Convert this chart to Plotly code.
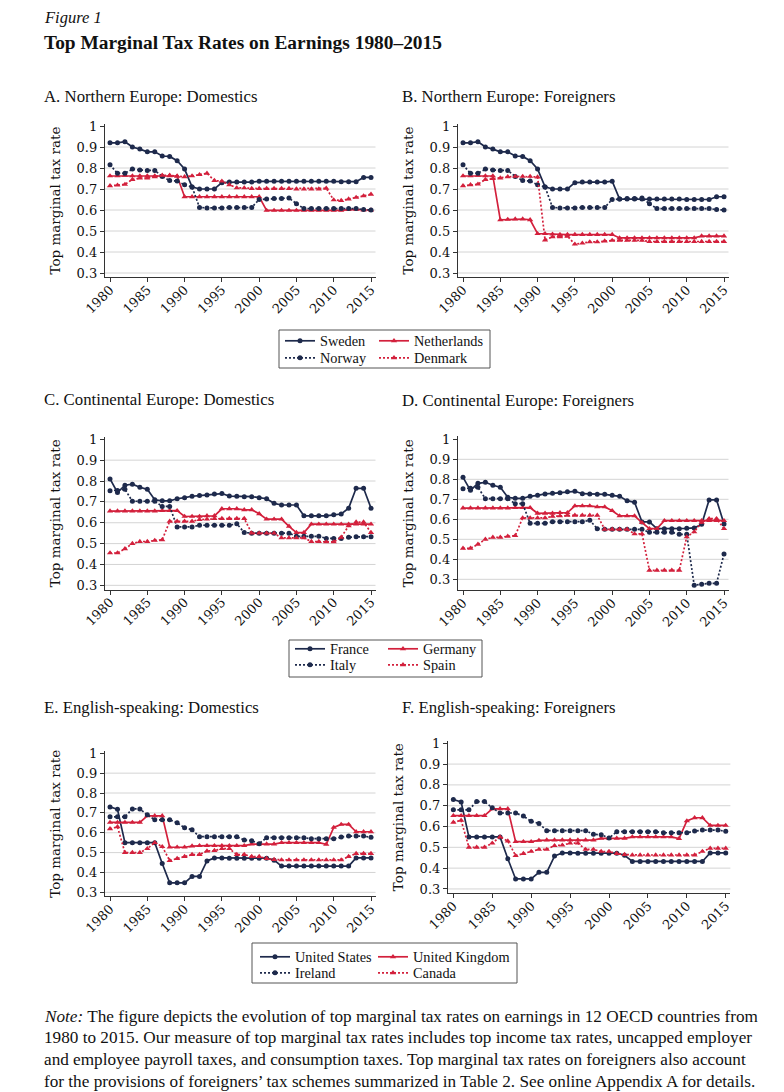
import plotly.graph_objects as go

# ---------------- data ----------------
years = list(range(1980, 2016))
x_ticks = [1980, 1985, 1990, 1995, 2000, 2005, 2010, 2015]
y_ticks = [0.3, 0.4, 0.5, 0.6, 0.7, 0.8, 0.9, 1.0]
y_tick_labels = ["0.3", "0.4", "0.5", "0.6", "0.7", "0.8", "0.9", "1"]
grid_vals = [0.3, 0.4, 0.5, 0.6, 0.7, 0.8, 0.9]

# Panel A / B : Northern Europe
sweden_dom = [0.92, 0.92, 0.925, 0.90, 0.89, 0.877, 0.877, 0.857, 0.855, 0.835,
              0.795, 0.71, 0.70, 0.70, 0.70, 0.73, 0.733, 0.733, 0.733, 0.733,
              0.737, 0.737, 0.737, 0.737, 0.737, 0.737, 0.737, 0.737, 0.737, 0.737,
              0.737, 0.735, 0.735, 0.735, 0.755, 0.755]
norway_dom = [0.815, 0.775, 0.775, 0.795, 0.79, 0.788, 0.788, 0.76, 0.74, 0.738,
              0.72, 0.71, 0.612, 0.61, 0.61, 0.61, 0.612, 0.612, 0.612, 0.612,
              0.65, 0.652, 0.655, 0.655, 0.657, 0.63, 0.607, 0.607, 0.607, 0.607,
              0.607, 0.607, 0.607, 0.607, 0.602, 0.60]
netherlands_dom = [0.762, 0.762, 0.765, 0.762, 0.762, 0.762, 0.762, 0.762, 0.762, 0.762,
                   0.663, 0.663, 0.663, 0.663, 0.663, 0.663, 0.663, 0.663, 0.663, 0.663,
                   0.663, 0.598, 0.598, 0.598, 0.598, 0.598, 0.598, 0.598, 0.598, 0.598,
                   0.598, 0.598, 0.602, 0.603, 0.60, 0.60]
denmark_dom = [0.715, 0.718, 0.722, 0.745, 0.752, 0.752, 0.758, 0.765, 0.765, 0.76,
               0.758, 0.762, 0.768, 0.775, 0.74, 0.737, 0.72, 0.705, 0.705, 0.702,
               0.702, 0.702, 0.702, 0.702, 0.702, 0.70, 0.70, 0.70, 0.70, 0.703,
               0.648, 0.645, 0.652, 0.66, 0.667, 0.675]

sweden_for = [0.92, 0.92, 0.925, 0.90, 0.89, 0.877, 0.877, 0.857, 0.855, 0.835,
              0.795, 0.71, 0.70, 0.70, 0.70, 0.73, 0.733, 0.733, 0.733, 0.733,
              0.737, 0.652, 0.652, 0.652, 0.652, 0.652, 0.652, 0.652, 0.652, 0.652,
              0.65, 0.65, 0.65, 0.65, 0.663, 0.663]
norway_for = [0.815, 0.775, 0.775, 0.795, 0.79, 0.788, 0.788, 0.76, 0.74, 0.738,
              0.72, 0.71, 0.612, 0.61, 0.61, 0.61, 0.612, 0.612, 0.612, 0.612,
              0.65, 0.652, 0.655, 0.655, 0.657, 0.63, 0.607, 0.607, 0.607, 0.607,
              0.607, 0.607, 0.607, 0.607, 0.602, 0.60]
netherlands_for = [0.762, 0.762, 0.765, 0.762, 0.762, 0.553, 0.555, 0.557, 0.557, 0.553,
                   0.487, 0.487, 0.485, 0.483, 0.483, 0.483, 0.483, 0.483, 0.483, 0.483,
                   0.483, 0.467, 0.467, 0.467, 0.467, 0.467, 0.467, 0.467, 0.467, 0.467,
                   0.467, 0.467, 0.476, 0.476, 0.476, 0.476]
denmark_for = [0.715, 0.72, 0.723, 0.745, 0.75, 0.752, 0.758, 0.76, 0.76, 0.76,
               0.757, 0.457, 0.472, 0.472, 0.475, 0.437, 0.442, 0.448, 0.448, 0.452,
               0.455, 0.455, 0.455, 0.455, 0.455, 0.45, 0.45, 0.45, 0.45, 0.45,
               0.45, 0.45, 0.45, 0.45, 0.45, 0.45]

# Panel C / D : Continental Europe
france_dom = [0.81, 0.745, 0.78, 0.785, 0.77, 0.76, 0.71, 0.705, 0.705, 0.715,
              0.72, 0.727, 0.73, 0.733, 0.738, 0.74, 0.728, 0.727, 0.725, 0.725,
              0.72, 0.715, 0.693, 0.685, 0.685, 0.685, 0.633, 0.633, 0.633, 0.633,
              0.638, 0.642, 0.67, 0.765, 0.765, 0.67]
italy_dom = [0.753, 0.755, 0.76, 0.703, 0.703, 0.703, 0.703, 0.678, 0.678, 0.58,
             0.58, 0.58, 0.588, 0.588, 0.588, 0.588, 0.588, 0.595, 0.553, 0.55,
             0.55, 0.55, 0.55, 0.55, 0.55, 0.535, 0.535, 0.535, 0.535, 0.525,
             0.525, 0.525, 0.53, 0.533, 0.533, 0.533]
germany_dom = [0.656, 0.656, 0.656, 0.656, 0.656, 0.656, 0.656, 0.658, 0.658, 0.658,
               0.63, 0.63, 0.63, 0.633, 0.633, 0.667, 0.667, 0.667, 0.662, 0.662,
               0.643, 0.617, 0.617, 0.617, 0.583, 0.553, 0.553, 0.593, 0.593, 0.593,
               0.593, 0.593, 0.593, 0.593, 0.593, 0.593]
spain_dom = [0.455, 0.455, 0.475, 0.50, 0.51, 0.51, 0.515, 0.518, 0.607, 0.607,
             0.607, 0.607, 0.615, 0.617, 0.62, 0.62, 0.62, 0.62, 0.62, 0.55,
             0.55, 0.55, 0.55, 0.527, 0.527, 0.527, 0.527, 0.51, 0.51, 0.508,
             0.508, 0.53, 0.585, 0.603, 0.603, 0.553]

france_for = [0.81, 0.745, 0.78, 0.785, 0.77, 0.76, 0.71, 0.705, 0.705, 0.715,
              0.72, 0.727, 0.73, 0.733, 0.738, 0.74, 0.728, 0.727, 0.725, 0.725,
              0.72, 0.715, 0.693, 0.685, 0.587, 0.587, 0.553, 0.553, 0.553, 0.553,
              0.555, 0.557, 0.575, 0.697, 0.697, 0.577]
italy_for = [0.753, 0.755, 0.76, 0.703, 0.703, 0.703, 0.703, 0.678, 0.678, 0.58,
             0.58, 0.58, 0.588, 0.588, 0.588, 0.588, 0.588, 0.595, 0.553, 0.55,
             0.55, 0.55, 0.55, 0.55, 0.55, 0.535, 0.535, 0.535, 0.535, 0.525,
             0.525, 0.27, 0.275, 0.28, 0.28, 0.427]
germany_for = [0.656, 0.656, 0.656, 0.656, 0.656, 0.656, 0.656, 0.658, 0.658, 0.658,
               0.63, 0.63, 0.63, 0.633, 0.633, 0.667, 0.667, 0.667, 0.662, 0.662,
               0.643, 0.617, 0.617, 0.617, 0.583, 0.553, 0.553, 0.593, 0.593, 0.593,
               0.593, 0.593, 0.593, 0.593, 0.593, 0.593]
spain_for = [0.455, 0.455, 0.475, 0.50, 0.51, 0.51, 0.515, 0.518, 0.607, 0.607,
             0.607, 0.607, 0.615, 0.617, 0.62, 0.62, 0.62, 0.62, 0.62, 0.55,
             0.55, 0.55, 0.55, 0.527, 0.527, 0.345, 0.345, 0.345, 0.345, 0.345,
             0.512, 0.537, 0.585, 0.603, 0.603, 0.553]

# Panel E / F : English-speaking
us_dom = [0.73, 0.718, 0.55, 0.55, 0.55, 0.55, 0.55, 0.445, 0.348, 0.348,
          0.348, 0.38, 0.38, 0.458, 0.473, 0.473, 0.472, 0.472, 0.472, 0.472,
          0.472, 0.472, 0.462, 0.432, 0.432, 0.432, 0.432, 0.432, 0.432, 0.432,
          0.432, 0.432, 0.432, 0.473, 0.473, 0.473]
ireland_dom = [0.68, 0.68, 0.68, 0.72, 0.72, 0.69, 0.665, 0.665, 0.665, 0.65,
               0.625, 0.615, 0.58, 0.58, 0.58, 0.58, 0.58, 0.58, 0.563, 0.56,
               0.545, 0.575, 0.575, 0.575, 0.575, 0.575, 0.575, 0.57, 0.57, 0.57,
               0.57, 0.578, 0.583, 0.583, 0.583, 0.577]
uk_dom = [0.652, 0.652, 0.652, 0.652, 0.652, 0.685, 0.685, 0.685, 0.527, 0.527,
          0.527, 0.533, 0.535, 0.535, 0.535, 0.535, 0.535, 0.535, 0.535, 0.543,
          0.543, 0.543, 0.543, 0.55, 0.55, 0.55, 0.55, 0.55, 0.55, 0.542,
          0.627, 0.642, 0.642, 0.605, 0.605, 0.605]
canada_dom = [0.62, 0.63, 0.50, 0.50, 0.50, 0.52, 0.55, 0.53, 0.46, 0.47,
              0.48, 0.49, 0.49, 0.508, 0.51, 0.52, 0.52, 0.49, 0.49, 0.48,
              0.48, 0.47, 0.465, 0.463, 0.463, 0.463, 0.463, 0.463, 0.463, 0.463,
              0.463, 0.463, 0.48, 0.495, 0.495, 0.495]

us_for = list(us_dom)
ireland_for = list(ireland_dom)
uk_for = list(uk_dom)
canada_for = list(canada_dom)

names_north = ["Sweden", "Netherlands", "Norway", "Denmark"]
names_cont = ["France", "Germany", "Italy", "Spain"]
names_eng = ["United States", "United Kingdom", "Ireland", "Canada"]

panel_titles = ["A. Northern Europe: Domestics", "B. Northern Europe: Foreigners",
                "C. Continental Europe: Domestics", "D. Continental Europe: Foreigners",
                "E. English-speaking: Domestics", "F. English-speaking: Foreigners"]
y_title = "Top marginal tax rate"

note_lines = [
    "<i>Note:</i> The figure depicts the evolution of top marginal tax rates on earnings in 12 OECD countries from",
    "1980 to 2015. Our measure of top marginal tax rates includes top income tax rates, uncapped employer",
    "and employee payroll taxes, and consumption taxes. Top marginal tax rates on foreigners also account",
    "for the provisions of foreigners\u2019 tax schemes summarized in Table 2. See online Appendix A for details.",
]

# ---------------- styling / layout ----------------
# The page body has an 8px margin, so the figure is drawn 8px smaller and all
# reference pixel positions are shifted by that offset.
OFF = 8
W, H = 784 - OFF, 1092 - OFF
NAVY = "#1e2a4c"
RED = "#d3203c"
GRID = "#d4d4d4"
AXC = "#333333"
TXT = "#111111"
TICKFONT = dict(family="DejaVu Serif", size=13, color=TXT)
SERIF = "Liberation Serif"
DOT = "2px,2px"

def fx(p):
    return (p - OFF) / W

def fy(p):
    return 1 - (p - OFF) / H

styles = [  # Solid navy, solid red, dotted navy, dotted red
    dict(color=NAVY, dash="solid", symbol="circle", msize=5),
    dict(color=RED, dash="solid", symbol="triangle-up", msize=5.5),
    dict(color=NAVY, dash=DOT, symbol="circle", msize=5),
    dict(color=RED, dash=DOT, symbol="triangle-up", msize=5.5),
]

# pixel geometry: x-domain, y-domain (top, bottom), y-range
panels = [
    dict(series=[sweden_dom, netherlands_dom, norway_dom, denmark_dom], names=names_north,
         xd=(104.8, 375.5), yd=(123.9, 277.2), yr=(0.28, 1.01), leg=0),
    dict(series=[sweden_for, netherlands_for, norway_for, denmark_for], names=names_north,
         xd=(457.8, 728.5), yd=(123.9, 277.2), yr=(0.28, 1.01), leg=None),
    dict(series=[france_dom, germany_dom, italy_dom, spain_dom], names=names_cont,
         xd=(104.8, 375.5), yd=(437.2, 589.5), yr=(0.28, 1.01), leg=1),
    dict(series=[france_for, germany_for, italy_for, spain_for], names=names_cont,
         xd=(457.8, 728.5), yd=(436.3, 590.3), yr=(0.245, 1.015), leg=None),
    dict(series=[us_dom, uk_dom, ireland_dom, canada_dom], names=names_eng,
         xd=(104.8, 375.5), yd=(751.3, 896.3), yr=(0.28, 1.01), leg=2),
    dict(series=[us_for, uk_for, ireland_for, canada_for], names=names_eng,
         xd=(447.9, 730.4), yd=(741.2, 893.1), yr=(0.28, 1.01), leg=None),
]

title_pos = [(42, 97), (400, 97), (42, 399), (400, 400), (42, 707), (400, 707)]

# legend geometry: item left x per column, row centre y, box
leg_geo = [
    dict(cols=(280, 374), rows=(341, 358), box=(279, 330, 490, 368)),
    dict(cols=(290, 383), rows=(649, 665), box=(289, 640, 482, 677)),
    dict(cols=(255, 373), rows=(957, 973), box=(252, 943, 517, 983)),
]

fig = go.Figure()
layout = dict(template="none", width=W, height=H,
              margin=dict(l=0, r=0, t=0, b=0, pad=0, autoexpand=False),
              paper_bgcolor="white", plot_bgcolor="white", showlegend=True)
shapes = []
annotations = []

legend_counter = 0
for i, p in enumerate(panels):
    k = i + 1
    xa = "x" if k == 1 else f"x{k}"
    ya = "y" if k == 1 else f"y{k}"
    for j, (vals, nm) in enumerate(zip(p["series"], p["names"])):
        st = styles[j]
        tr = dict(x=years, y=vals, name=nm, mode="lines+markers",
                  line=dict(color=st["color"], dash=st["dash"], width=1.7),
                  marker=dict(color=st["color"], symbol=st["symbol"], size=st["msize"]),
                  xaxis=xa, yaxis=ya, showlegend=False, hoverinfo="x+y+name")
        if p["leg"] is not None:
            g = leg_geo[p["leg"]]
            col, row = j % 2, j // 2
            legend_counter += 1
            lname = "legend" if legend_counter == 1 else f"legend{legend_counter}"
            tr["showlegend"] = True
            tr["legend"] = lname
            layout[lname] = dict(x=fx(g["cols"][col]), y=fy(g["rows"][row]),
                                 xanchor="left", yanchor="middle",
                                 bgcolor="rgba(0,0,0,0)", borderwidth=0,
                                 font=dict(family=SERIF, size=14.3, color=TXT),
                                 itemclick=False, itemdoubleclick=False)
        fig.add_trace(go.Scatter(**tr))

    axis_key_x = "xaxis" if k == 1 else f"xaxis{k}"
    axis_key_y = "yaxis" if k == 1 else f"yaxis{k}"
    layout[axis_key_x] = dict(domain=[fx(p["xd"][0]), fx(p["xd"][1])], anchor=ya,
                              range=[1979.3, 2015.6], tickmode="array", tickvals=x_ticks,
                              tickangle=-45, ticks="outside", ticklen=4, tickcolor=AXC,
                              ticklabelstandoff=-5,
                              showline=True, linecolor=AXC, linewidth=1, automargin=False,
                              showgrid=False, zeroline=False, tickfont=TICKFONT)
    layout[axis_key_y] = dict(domain=[fy(p["yd"][1]), fy(p["yd"][0])], anchor=xa,
                              range=list(p["yr"]), tickmode="array", tickvals=y_ticks,
                              ticktext=y_tick_labels, ticks="outside", ticklen=4,
                              tickcolor=AXC, showline=True, linecolor=AXC, linewidth=1,
                              showgrid=False, zeroline=False, tickfont=TICKFONT, automargin=False,
                              title=dict(text=y_title, font=dict(family="DejaVu Serif", size=13.5, color=TXT),
                                         standoff=12))
    for gv in grid_vals:
        shapes.append(dict(type="line", xref=f"{xa} domain", yref=ya, x0=0, x1=1,
                           y0=gv, y1=gv, line=dict(color=GRID, width=1), layer="below"))
    tx, ty = title_pos[i]
    annotations.append(dict(text=panel_titles[i], x=fx(tx), y=fy(ty), xref="paper", yref="paper",
                            xanchor="left", yanchor="middle", showarrow=False,
                            font=dict(family=SERIF, size=16.8, color=TXT)))

for g in leg_geo:
    x0, y0, x1, y1 = g["box"]
    shapes.append(dict(type="rect", xref="paper", yref="paper", x0=fx(x0), x1=fx(x1),
                       y0=fy(y1), y1=fy(y0), line=dict(color="#555555", width=1)))

annotations.append(dict(text="<i>Figure 1</i>", x=fx(42), y=fy(17.5), xref="paper", yref="paper",
                        xanchor="left", yanchor="middle", showarrow=False,
                        font=dict(family=SERIF, size=16.5, color=TXT)))
annotations.append(dict(text="<b>Top Marginal Tax Rates on Earnings 1980\u20132015</b>", x=fx(42), y=fy(42),
                        xref="paper", yref="paper", xanchor="left", yanchor="middle", showarrow=False,
                        font=dict(family=SERIF, size=19.4, color=TXT)))
for n, line in enumerate(note_lines):
    annotations.append(dict(text=line, x=fx(42), y=fy(1016 + n * 21.7), xref="paper", yref="paper",
                            xanchor="left", yanchor="middle", showarrow=False,
                            font=dict(family=SERIF, size=17.2, color=TXT)))

layout["shapes"] = shapes
layout["annotations"] = annotations
fig.update_layout(**layout)
fig.write_html("out.html")
